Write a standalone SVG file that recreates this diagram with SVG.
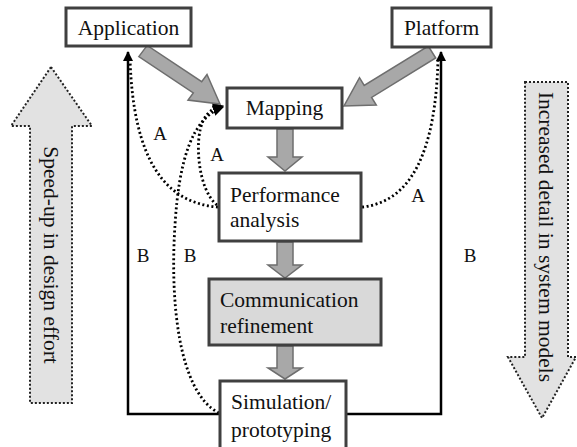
<svg xmlns="http://www.w3.org/2000/svg" width="577" height="447" viewBox="0 0 577 447">
  <style>
    .t { font-family: "Liberation Serif", serif; fill: #111; }
    .tag { font-size: 19px; }
    .box { fill: #fff; stroke: #404040; stroke-width: 3; }
    .shade { fill: #d9d9d9; }
    .flow { fill: #a8a8a8; stroke: #6e6e6e; stroke-width: 1.5; stroke-linejoin: miter; }
    .side { fill: #e2e2e2; stroke: #222; stroke-width: 2; stroke-dasharray: 2 2; }
    .loop { fill: none; stroke: #000; stroke-width: 2.5; }
    .dot { fill: none; stroke: #000; stroke-width: 2.8; stroke-dasharray: 2 2.6; }
  </style>
  <defs>
    <marker id="tip" viewBox="0 0 10 10" refX="9" refY="5" markerWidth="4" markerHeight="4" orient="auto">
      <path d="M0,0 L10,5 L0,10 z" fill="#000"/>
    </marker>
  </defs>

  <!-- side indicators -->
  <g id="speedup">
    <polygon class="side" points="51,67 92,126 72,126 72,403 30,403 30,126 11,126"/>
    <text class="t" font-size="21.5" transform="translate(51,255) rotate(90)" text-anchor="middle" dominant-baseline="central">Speed-up in design effort</text>
  </g>
  <g id="detail">
    <polygon class="side" points="525,82 568,82 568,357 576,357 542,418 508,357 525,357"/>
    <text class="t" font-size="21.5" transform="translate(546,237) rotate(90)" text-anchor="middle" dominant-baseline="central">Increased detail in system models</text>
  </g>

  <!-- connectors -->
  <g id="connectors">
    <!-- feedback loop from simulation back to application / platform -->
    <polyline class="loop" points="220,414 128,414 128,52" marker-end="url(#tip)"/>
    <polyline class="loop" points="346,414 441,414 441,52" marker-end="url(#tip)"/>

    <!-- dotted iteration paths -->
    <path class="dot" d="M218,207 C165,203 133,160 130,58"/>
    <path class="dot" d="M362,207 C412,202 436,150 438,58"/>
    <path class="dot" d="M217,205 C198,190 194,140 203,121 C208,111 214,108 223,106" marker-end="url(#tip)"/>
    <path class="dot" d="M219,413 C178,392 170,300 175,225 C179,160 192,118 223,107" marker-end="url(#tip)"/>

    <!-- main design flow -->
    <polygon class="flow" points="138.8,56.6 147.2,45.4 201.7,81.7 207,74.5 220,104 188,100.1 193.3,92.9"/>
    <polygon class="flow" points="435.7,58 428.3,46 364.2,85.4 359.5,77.7 344,106 376.3,105.1 371.6,97.4"/>
    <polygon class="flow" points="277,129 293,129 293,157 302,157 285,171 268,157 277,157"/>
    <polygon class="flow" points="277,242 293,242 293,265 302,265 285,278 268,265 277,265"/>
    <polygon class="flow" points="277,346 293,346 293,368 302,368 285,379 268,368 277,368"/>

    <text class="t tag" x="160" y="140" text-anchor="middle">A</text>
    <text class="t tag" x="217" y="161" text-anchor="middle">A</text>
    <text class="t tag" x="418" y="202" text-anchor="middle">A</text>
    <text class="t tag" x="143" y="262" text-anchor="middle">B</text>
    <text class="t tag" x="190" y="262" text-anchor="middle">B</text>
    <text class="t tag" x="470" y="262" text-anchor="middle">B</text>
  </g>

  <!-- nodes -->
  <g id="application">
    <rect class="box" x="66" y="8" width="125" height="38"/>
    <text class="t" font-size="21.5" x="128.5" y="35" text-anchor="middle">Application</text>
  </g>
  <g id="platform">
    <rect class="box" x="392" y="8" width="99" height="39"/>
    <text class="t" font-size="21.5" x="441.5" y="35" text-anchor="middle">Platform</text>
  </g>
  <g id="mapping">
    <rect class="box" x="227" y="88" width="115" height="40"/>
    <text class="t" font-size="21.5" x="284.5" y="115" text-anchor="middle">Mapping</text>
  </g>
  <g id="performance">
    <rect class="box" x="219" y="173" width="142" height="68"/>
    <text class="t" font-size="21.5" x="230" y="202">Performance</text>
    <text class="t" font-size="21.5" x="230" y="227">analysis</text>
  </g>
  <g id="communication">
    <rect class="box shade" x="209" y="279" width="172" height="66"/>
    <text class="t" font-size="21.5" x="220" y="307">Communication</text>
    <text class="t" font-size="21.5" x="220" y="333">refinement</text>
  </g>
  <g id="simulation">
    <rect class="box" x="220" y="381" width="126" height="70"/>
    <text class="t" font-size="21.5" x="231" y="409">Simulation/</text>
    <text class="t" font-size="21.5" x="231" y="437">prototyping</text>
  </g>
</svg>
